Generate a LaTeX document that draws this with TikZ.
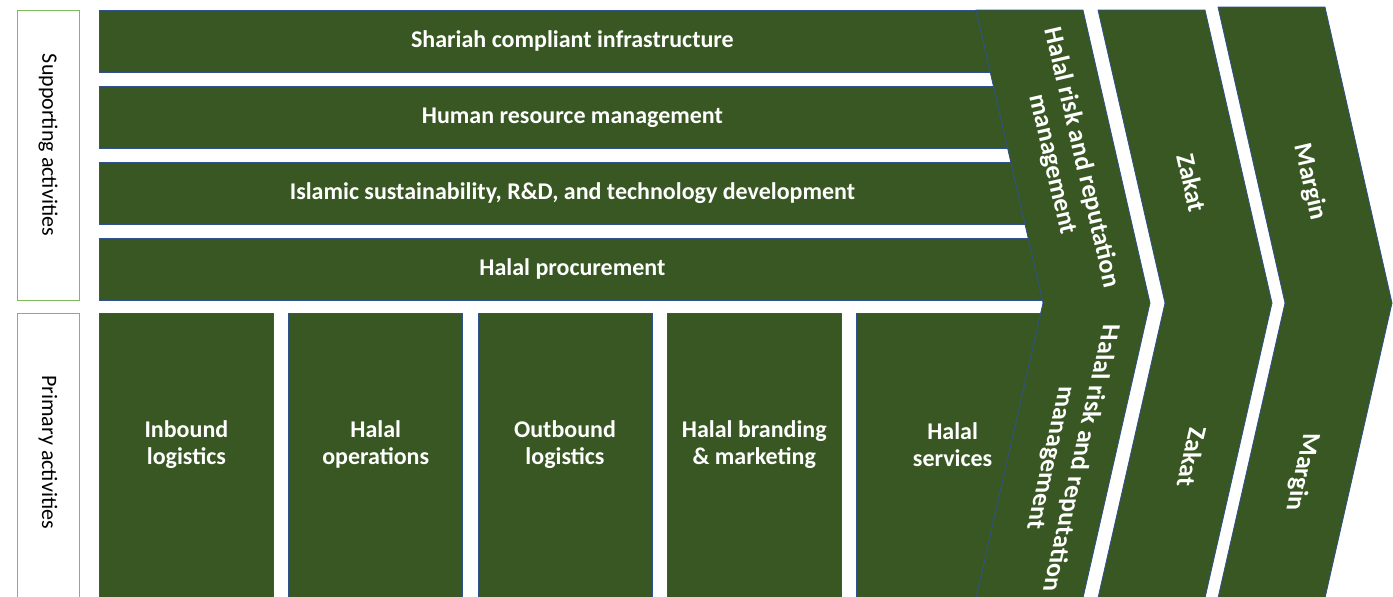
\documentclass[tikz,border=0pt]{standalone}
\usepackage{fontspec}
\setmainfont{Carlito}
\usepackage{tikz}
\usetikzlibrary{positioning}
\tikzstyle{chainFrame} = [x = 1pt, y = -1pt]
\definecolor{chainGreen}{RGB}{56,87,35}
\definecolor{edgeBlue}{RGB}{47,82,143}
\definecolor{tagGreen}{RGB}{128,186,90}
\tikzstyle{blockStyle} = [draw=edgeBlue, fill=chainGreen, line width=.8pt, inner sep=0pt, anchor=north west]
\tikzstyle{blockText} = [text=white, font=\fontsize{24}{27}\selectfont\bfseries, align=center]
\tikzstyle{chevronText} = [text=white, font=\fontsize{26}{30}\selectfont\bfseries, align=center]
\tikzstyle{tagStyle} = [draw=tagGreen, line width=1.2pt, inner sep=0pt, anchor=north west, minimum width=62pt]
\tikzstyle{tagText} = [font=\fontsize{22}{26}\selectfont, rotate=-90]
\tikzstyle{chevronStyle} = [draw=edgeBlue, fill=chainGreen, line width=.8pt]
\tikzstyle{upperSlant} = [chevronText, rotate=-77]
\tikzstyle{lowerSlant} = [chevronText, xslant=.229, rotate=-90]
\newcommand{\supportRow}[3]{\node [blockStyle, blockText, minimum width=946pt, minimum height=62pt] (#1) at (99, #2) {#3};}
\newcommand{\chevronShape}[2]{\filldraw [chevronStyle] (#1, #2) -- (#1 + 107, #2) -- (#1 + 174, 303) -- (#1 + 107, 598) -- (#1, 598) -- (#1 + 67, 303) -- cycle;}

\begin{document}
\begin{tikzpicture}[chainFrame]
  \useasboundingbox (0,0) rectangle (1393,597);
  \node [tagStyle, minimum height=290pt] (supportTag) at (17,10) {};
  \node [tagText] (supportLabel) at (48,145) {Supporting activities};
  \node [tagStyle, minimum height=290pt] (primaryTag) at (17,313) {};
  \node [tagText] (primaryLabel) at (48,452) {Primary activities};
  \supportRow{infra}{10}{Shariah compliant infrastructure}
  \supportRow{hrm}{86}{Human resource management}
  \supportRow{tech}{162}{Islamic sustainability, R\&D, and technology development}
  \supportRow{procure}{238}{Halal procurement}
  \node [blockStyle, minimum width=174pt, minimum height=284pt] (inbound) at (99,313) {};
  \node [blockStyle, minimum width=174pt, minimum height=284pt, right=14.5pt of inbound] (operations) {};
  \node [blockStyle, minimum width=174pt, minimum height=284pt, right=14.5pt of operations] (outbound) {};
  \node [blockStyle, minimum width=174pt, minimum height=284pt, right=14.5pt of outbound] (branding) {};
  \node [blockStyle, minimum width=192pt, minimum height=284pt, right=14.5pt of branding] (services) {};
  \node [blockText] (inboundText) at ([yshift=11pt]inbound.center) {Inbound\\logistics};
  \node [blockText] (operationsText) at ([yshift=11pt]operations.center) {Halal\\operations};
  \node [blockText] (outboundText) at ([yshift=11pt]outbound.center) {Outbound\\logistics};
  \node [blockText] (brandingText) at ([yshift=11pt]branding.center) {Halal branding\\\& marketing};
  \node [blockText] (servicesText) at ([yshift=11pt]services.center) {Halal\\services};
  \chevronShape{976}{10}
  \chevronShape{1098}{10}
  \chevronShape{1218}{7}
  \node [upperSlant] (riskUp) at (1067,161) {Halal risk and reputation\\management};
  \node [lowerSlant] (riskDown) at (1065,458) {Halal risk and reputation\\management};
  \node [upperSlant] (zakatUp) at (1192,183) {Zakat};
  \node [lowerSlant] (zakatDown) at (1192,457) {Zakat};
  \node [upperSlant] (marginUp) at (1310,182) {Margin};
  \node [lowerSlant] (marginDown) at (1302,472) {Margin};
\end{tikzpicture}
\end{document}
